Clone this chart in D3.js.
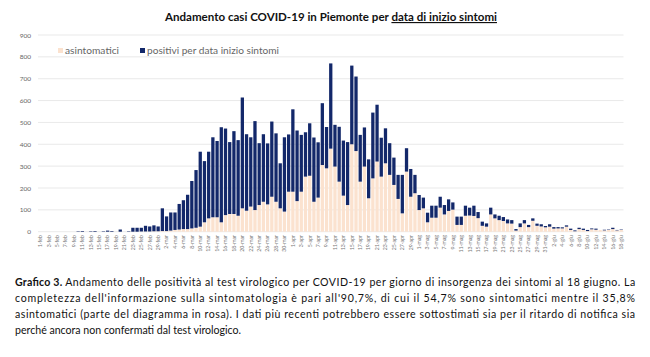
<!DOCTYPE html>
<html><head><meta charset="utf-8">
<script src="https://cdn.jsdelivr.net/npm/d3@7"></script>
<style>body{margin:0;background:#fff} svg{display:block}</style>
</head><body>
<svg id="c" width="650" height="357"></svg>
<script>
// ---- DATA ----
const dates = [
 "1-feb","2-feb","3-feb","4-feb","5-feb","6-feb","7-feb","8-feb","9-feb","10-feb",
 "11-feb","12-feb","13-feb","14-feb","15-feb","16-feb","17-feb","18-feb","19-feb","20-feb",
 "21-feb","22-feb","23-feb","24-feb","25-feb","26-feb","27-feb","28-feb","29-feb",
 "1-mar","2-mar","3-mar","4-mar","5-mar","6-mar","7-mar","8-mar","9-mar","10-mar",
 "11-mar","12-mar","13-mar","14-mar","15-mar","16-mar","17-mar","18-mar","19-mar","20-mar",
 "21-mar","22-mar","23-mar","24-mar","25-mar","26-mar","27-mar","28-mar","29-mar","30-mar","31-mar",
 "1-apr","2-apr","3-apr","4-apr","5-apr","6-apr","7-apr","8-apr","9-apr","10-apr",
 "11-apr","12-apr","13-apr","14-apr","15-apr","16-apr","17-apr","18-apr","19-apr","20-apr",
 "21-apr","22-apr","23-apr","24-apr","25-apr","26-apr","27-apr","28-apr","29-apr","30-apr",
 "1-mag","2-mag","3-mag","4-mag","5-mag","6-mag","7-mag","8-mag","9-mag","10-mag",
 "11-mag","12-mag","13-mag","14-mag","15-mag","16-mag","17-mag","18-mag","19-mag","20-mag",
 "21-mag","22-mag","23-mag","24-mag","25-mag","26-mag","27-mag","28-mag","29-mag","30-mag","31-mag",
 "1-giu","2-giu","3-giu","4-giu","5-giu","6-giu","7-giu","8-giu","9-giu","10-giu",
 "11-giu","12-giu","13-giu","14-giu","15-giu","16-giu","17-giu","18-giu"
];
const asintomatici = [
 0,0,0,0,0,0,0,0,0,0,
 0,0,0,0,0,0,0,0,0,0,
 0,0,0,0,1,1,1,2,2,
 3,3,5,8,10,12,12,15,18,23,
 43,61,66,66,43,76,81,81,73,107,
 96,115,99,122,137,125,160,137,107,92,183,
 183,140,183,252,256,137,156,305,290,380,
 298,229,165,122,400,369,229,298,153,244,
 321,252,313,260,214,150,84,275,160,176,
 99,107,43,64,64,110,79,95,101,31,
 31,73,74,72,62,27,23,79,61,53,
 49,38,37,5,21,38,21,50,27,24,20,
 23,14,15,15,23,8,2,12,8,3,
 11,9,8,6,8,12,6,8
];
const sintomatici = [
 0,0,0,0,0,0,0,0,0,2,
 3,0,2,3,0,2,5,3,0,10,
 0,2,18,18,17,26,23,27,22,
 104,67,83,80,117,132,157,217,264,343,
 280,305,366,349,435,396,329,379,346,507,
 350,317,407,283,309,279,344,313,206,340,262,
 377,323,260,203,240,294,253,283,189,390,
 191,251,252,288,360,341,214,179,178,301,
 260,178,160,145,125,110,176,107,127,84,
 69,49,44,55,55,50,43,53,33,38,
 38,46,36,47,28,19,15,31,18,20,
 18,18,16,7,17,15,10,11,10,10,6,
 11,7,6,5,6,6,4,6,6,5,
 4,5,0,3,2,6,2,2
];
const seriesNames = ["asintomatici", "positivi per data inizio sintomi"];
const yTicks = [0,100,200,300,400,500,600,700,800,900];
const xTickLabels = dates.filter((d,i) => i % 2 === 0);
const captionLines = [
 "Andamento delle positività al test virologico per COVID-19 per giorno di insorgenza dei sintomi al 18 giugno. La",
 "completezza dell'informazione sulla sintomatologia è pari all'90,7%, di cui il 54,7% sono sintomatici mentre il 35,8%",
 "asintomatici (parte del diagramma in rosa). I dati più recenti potrebbero essere sottostimati sia per il ritardo di notifica sia",
 "perché ancora non confermati dal test virologico."
];

// ---- CHART ----
const colors = {asint: "#fbe2cf", sint: "#13286a"};
const svg = d3.select("#c");
const x = d3.scaleBand().domain(dates).range([38, 623.5]).paddingInner(0.22).paddingOuter(0.15);
const y = d3.scaleLinear().domain([0, 900]).range([231.7, 35]);

// gridlines
svg.append("g").selectAll("line").data(yTicks).join("line")
  .attr("x1", 38).attr("x2", 623.5)
  .attr("y1", d => y(d)).attr("y2", d => y(d))
  .attr("stroke", "#e3e3e3").attr("stroke-width", 0.8);

// y axis labels
const yAxis = d3.axisLeft(y).tickValues(yTicks).tickSize(0).tickPadding(0);
const gy = svg.append("g").attr("transform", "translate(31,0)").call(yAxis);
gy.select(".domain").remove();
gy.selectAll("text").attr("font-family", "Lato, sans-serif").attr("font-size", 6.5).attr("fill", "#666");

// stacked data
const rows = dates.map((d, i) => ({date: d, asint: asintomatici[i], sint: sintomatici[i]}));
const stack = d3.stack().keys(["asint", "sint"])(rows);
svg.append("g").selectAll("g").data(stack).join("g")
  .attr("fill", s => colors[s.key])
  .selectAll("rect").data(s => s).join("rect")
  .attr("x", d => x(d.data.date))
  .attr("width", x.bandwidth())
  .attr("y", d => y(d[1]))
  .attr("height", d => Math.max(0, y(d[0]) - y(d[1])));

// x axis labels (rotated)
const xAxis = d3.axisBottom(x).tickValues(xTickLabels).tickSize(0).tickPadding(0);
const gx = svg.append("g").attr("transform", "translate(0,235)").call(xAxis);
gx.select(".domain").remove();
gx.selectAll("text")
  .attr("font-family", "Lato, sans-serif").attr("font-size", 5.2).attr("fill", "#777")
  .attr("transform", "rotate(-90)").attr("text-anchor", "end")
  .attr("x", 0).attr("y", 0).attr("dx", 0).attr("dy", "0.35em");

// legend
const leg = svg.append("g").attr("font-family", "Lato, sans-serif").attr("font-size", 8.5).attr("fill", "#666");
const legItems = [
  {name: seriesNames[0], color: colors.asint, x: 58, w: 54},
  {name: seriesNames[1], color: colors.sint, x: 140, w: 132}
];
legItems.forEach(it => {
  leg.append("rect").attr("x", it.x).attr("y", 48).attr("width", 5).attr("height", 5).attr("fill", it.color);
  leg.append("text").attr("x", it.x + 7).attr("y", 54).text(it.name)
    .attr("textLength", it.w).attr("lengthAdjust", "spacingAndGlyphs");
});

// title
const title = svg.append("text").attr("x", 165).attr("y", 21)
  .attr("font-family", "Lato, sans-serif").attr("font-weight", "bold").attr("font-size", 11.5).attr("fill", "#111")
  .attr("textLength", 332).attr("lengthAdjust", "spacingAndGlyphs");
title.append("tspan").text("Andamento casi COVID-19 in Piemonte per ");
title.append("tspan").text("data di inizio sintomi").attr("text-decoration", "underline");

// caption
const cap = svg.append("g").attr("font-family", "Lato, sans-serif").attr("font-size", 10.6).attr("fill", "#111");
const capY = [282, 298, 314, 330];
const t0 = cap.append("text").attr("x", 15).attr("y", capY[0] + 3.5);
t0.append("tspan").attr("font-weight", "bold").text("Grafico 3. ").attr("textLength", 50);
t0.append("tspan").text(captionLines[0]).attr("textLength", 570).attr("lengthAdjust", "spacing");
[1, 2].forEach(k => {
  cap.append("text").attr("x", 15).attr("y", capY[k] + 3.5).text(captionLines[k])
    .attr("textLength", 620).attr("lengthAdjust", "spacing");
});
cap.append("text").attr("x", 15).attr("y", capY[3] + 3.5).text(captionLines[3]);
</script>
</body></html>
